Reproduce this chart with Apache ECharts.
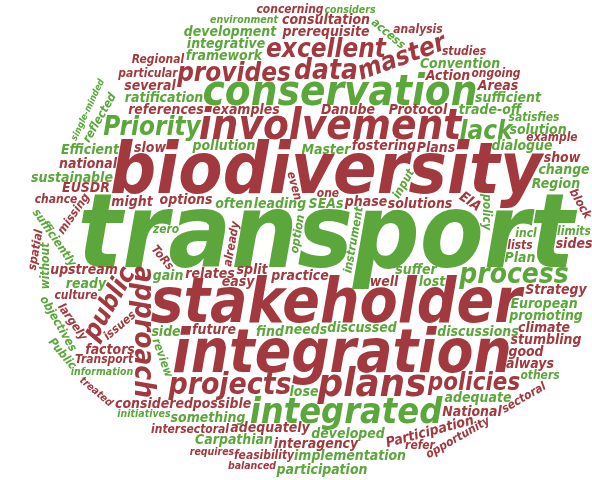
<!DOCTYPE html>
<html>
<head>
<meta charset="utf-8">
<script src="https://cdn.jsdelivr.net/npm/echarts@6/dist/echarts.min.js"></script>
<style>
html, body { margin: 0; padding: 0; background: #fff; }
#chart { width: 592px; height: 480px; }
</style>
</head>
<body>
<div id="chart"></div>
<script>
// word weights (roughly: width of one letter in px as seen in the picture)
const redWords = ['biodiversity', 'stakeholder', 'integration', 'involvement', 'plans', 'projects', 'approach', 'data',
  'public', 'provides', 'excellent', 'master', 'policies'];
const redWeights = [36, 31, 30, 21, 20, 15, 14, 14, 13, 13, 13, 13, 12];

const greenWords = ['transport', 'conservation', 'integrated', 'process', 'lack', 'Priority'];
const greenWeights = [52, 21, 18, 14, 13, 13];

const redSmall = ['National', 'Participation', 'climate', 'options', 'feasibility', 'Danube', 'balanced', 'EUSDR',
  'examples', 'sides', 'national', 'solutions', 'concerning', 'might', 'spatial', 'always', 'treated', 'ongoing',
  'Action', 'factors', 'example', 'fostering', 'chance', 'one', 'Regional', 'culture', 'show', 'several', 'relates',
  'slow', 'Plans', 'future', 'upstream', 'particular', 'ToRs', 'already', 'even', 'missing', 'lists', 'interagency',
  'block', 'issues', 'sectoral', 'good', 'EIA', 'split', 'Areas', 'opportunity', 'considered', 'analysis', 'refer',
  'references', 'prerequisite', 'consultation', 'Protocol', 'Transport', 'requires', 'possible', 'Strategy',
  'studies', 'phase', 'easy', 'adequately', 'stumbling', 'well', 'largely', 'practice', 'intersectoral'];
const redSmallWeights = [7, 7, 7, 7, 6, 7, 6, 7,
  7, 7, 7, 7, 6, 7, 6, 7, 6, 6,
  7, 7, 6, 7, 6, 6, 6, 6, 7, 7, 7,
  7, 7, 7, 7, 6, 6, 6, 6, 6, 6, 7,
  6, 6, 6, 7, 7, 7, 7, 6, 7, 6, 6,
  7, 7, 7, 7, 6, 6, 7, 7,
  6, 7, 7, 7, 7, 7, 6, 7, 6];

const greenSmall = ['pollution', 'Carpathian', 'framework', 'environment', 'change', 'Master', 'discussions',
  'trade-off', 'sufficient', 'reflected', 'initiatives', 'something', 'promoting', 'incl', 'without', 'Region',
  'discussed', 'Public', 'others', 'SEAs', 'ready', 'access', 'lost', 'leading', 'suffer', 'developed', 'option',
  'instrument', 'review', 'policy', 'objectives', 'find', 'lose', 'sufficiently', 'input', 'side', 'zero', 'limits',
  'dialogue', 'gain', 'single-minded', 'adequate', 'participation', 'satisfies', 'development', 'implementation',
  'ratification', 'Efficient', 'Convention', 'integrative', 'sustainable', 'information', 'solution', 'European',
  'needs', 'Plan', 'considers', 'often'];
const greenSmallWeights = [7, 7, 7, 6, 7, 7, 7,
  7, 7, 6, 6, 7, 7, 6, 6, 7,
  7, 6, 6, 7, 7, 6, 7, 7, 7, 7, 6,
  6, 6, 6, 6, 7, 7, 6, 6, 7, 6, 6,
  7, 7, 6, 7, 7, 6, 7, 7,
  7, 7, 7, 7, 7, 6, 7, 7,
  7, 7, 6, 7];

// styling
const colors = { red: '#a2393e', green: '#5ba73b' };
const turned = {
  Participation: 15, master: 20, approach: -90, public: 60, reflected: 60, spatial: 80, without: 90,
  treated: -40, Public: -50, access: -40, even: -75, missing: 55, block: -60, 'single-minded': 65,
  issues: 40, sectoral: 30, EIA: -35, opportunity: 30, largely: -55, sufficiently: -55, input: 60,
  already: 80, objectives: -60, ToRs: -50, option: 80, instrument: 80, review: -70, policy: -90
};
const fontFamily = '"Liberation Sans Narrow", "DejaVu Sans Condensed", sans-serif';
const sizeBoost = 1.14;
const W = 592, H = 480, CELL = 2;

function fontOf(size) {
  return 'italic bold ' + size + 'px ' + fontFamily;
}

function hash(s) {
  let h = 7;
  for (let i = 0; i < s.length; i++) h = (h * 31 + s.charCodeAt(i)) % 1000003;
  return h;
}

const items = [];
redWords.forEach((w, i) => items.push({ word: w, weight: redWeights[i], color: colors.red }));
greenWords.forEach((w, i) => items.push({ word: w, weight: greenWeights[i], color: colors.green }));
redSmall.forEach((w, i) => items.push({ word: w, weight: redSmallWeights[i], color: colors.red }));
greenSmall.forEach((w, i) => items.push({ word: w, weight: greenSmallWeights[i], color: colors.green }));
items.sort((a, b) => (b.weight - a.weight) || (hash(a.word) - hash(b.word)));

// layout on a cell grid, inside an ellipse
const gw = Math.ceil(W / CELL), gh = Math.ceil(H / CELL);
const grid = new Uint8Array(gw * gh);
const cx = 316, cy = 240, rx = 298, ry = 238;
const spiralX = 326, spiralY = 240;
for (let j = 0; j < gh; j++) {
  for (let i = 0; i < gw; i++) {
    const x = (i + 0.5) * CELL, y = (j + 0.5) * CELL;
    if (((x - cx) / rx) ** 2 + ((y - cy) / ry) ** 2 > 1) grid[j * gw + i] = 1;
  }
}

const scratch = document.createElement('canvas');
const sctx = scratch.getContext('2d', { willReadFrequently: true });
sctx.font = fontOf(100);
const emPerChar = sctx.measureText('abcdefghijklmnopqrstuvwxyz').width / 26 / 100;

function footprint(text, size, rot) {
  sctx.font = fontOf(size);
  const w = sctx.measureText(text).width;
  const h = size * 1.3;
  const side = Math.ceil(Math.sqrt(w * w + h * h)) + 4;
  scratch.width = side;
  scratch.height = side;
  sctx.font = fontOf(size);
  sctx.textAlign = 'center';
  sctx.textBaseline = 'middle';
  sctx.translate(side / 2, side / 2);
  sctx.rotate(-rot * Math.PI / 180);
  sctx.fillStyle = '#000';
  sctx.fillText(text, 0, 0);
  const px = sctx.getImageData(0, 0, side, side).data;
  const seen = new Set();
  const cells = [];
  for (let y = 0; y < side; y++) {
    for (let x = 0; x < side; x++) {
      if (px[(y * side + x) * 4 + 3] > 40) {
        const gx = Math.floor((x - side / 2) / CELL), gy = Math.floor((y - side / 2) / CELL);
        const key = gx * 10000 + gy;
        if (!seen.has(key)) { seen.add(key); cells.push([gx, gy]); }
      }
    }
  }
  return cells;
}

function fits(cells, pi, pj) {
  for (const [gx, gy] of cells) {
    const i = pi + gx, j = pj + gy;
    if (i < 0 || j < 0 || i >= gw || j >= gh || grid[j * gw + i]) return false;
  }
  return true;
}

function place(cells) {
  const ci = Math.round(spiralX / CELL), cj = Math.round(spiralY / CELL);
  const maxR = Math.max(gw, gh);
  for (let r = 0; r < maxR; r++) {
    const n = r === 0 ? 1 : r * 8;
    for (let k = 0; k < n; k++) {
      const th = -Math.PI / 2 + k / n * 2 * Math.PI;
      const pi = ci + Math.round(r * Math.cos(th) * 1.2);
      const pj = cj + Math.round(r * Math.sin(th));
      if (fits(cells, pi, pj)) {
        for (const [gx, gy] of cells) grid[(pj + gy) * gw + pi + gx] = 1;
        return [pi * CELL, pj * CELL];
      }
    }
  }
  return null;
}

const data = [];
items.forEach(it => {
  const rot = turned[it.word] || 0;
  let size = it.weight / emPerChar * sizeBoost;
  for (let tries = 0; tries < 4; tries++) {
    const pos = place(footprint(it.word, size, rot));
    if (pos) {
      data.push({
        name: it.word,
        value: pos,
        label: { fontSize: size, color: it.color, rotate: rot }
      });
      return;
    }
    size *= 0.88;
  }
});

const chart = echarts.init(document.getElementById('chart'));
chart.setOption({
  animation: false,
  grid: { left: 0, right: 0, top: 0, bottom: 0 },
  xAxis: { type: 'value', min: 0, max: W, show: false },
  yAxis: { type: 'value', min: 0, max: H, inverse: true, show: false },
  series: [{
    type: 'scatter',
    symbolSize: 0,
    silent: true,
    itemStyle: { opacity: 1 },
    label: {
      show: true,
      position: 'inside',
      formatter: '{b}',
      fontFamily: fontFamily,
      fontStyle: 'italic',
      fontWeight: 'bold',
      align: 'center',
      verticalAlign: 'middle'
    },
    data: data
  }]
});
</script>
</body>
</html>
